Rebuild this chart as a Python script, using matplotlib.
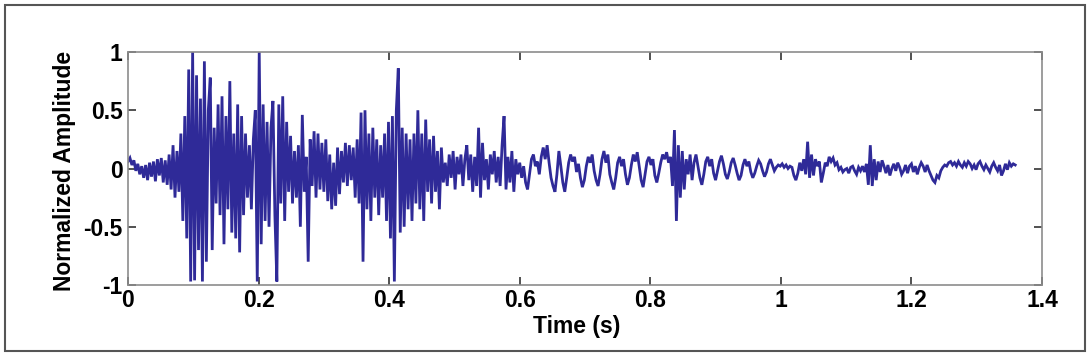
import numpy as np
import matplotlib
matplotlib.use('Agg')
import matplotlib.pyplot as plt
from matplotlib.patches import Rectangle
from matplotlib.ticker import FuncFormatter

# ---------------- data ----------------
sample_step = 0.003  # seconds between samples
amplitude = [
    0.06, 0.09, 0.03, 0.07, -0.02, 0.04, -0.05, 0.02, -0.08, 0.03, -0.10, 0.05, -0.07, 0.06, -0.11, 0.08, -0.06, 0.09, -0.12, 0.07,
    -0.14, 0.12, -0.18, 0.20, -0.25, 0.15, -0.20, 0.30, -0.45, 0.45, -0.60, 0.85, -0.97, 1.00, -0.96, 0.80, -0.70, 0.60, -0.97, 0.92,
    -0.80, 0.50, 0.78, -0.70, 0.35, -0.30, 0.55, -0.40, 0.62, -0.65, 0.45, -0.35, 0.75, -0.55, 0.30, -0.60, 0.55, -0.72, 0.45, -0.40,
    0.30, -0.25, 0.20, -0.35, 0.25, 0.50, -0.97, 1.00, -0.65, 0.55, -0.45, 0.40, -0.50, 0.35, 0.58, -0.40, -0.97, 0.55, -0.30, 0.62,
    -0.45, 0.40, -0.20, 0.28, -0.30, 0.15, -0.25, 0.20, -0.50, 0.46, -0.20, 0.10, -0.80, 0.25, -0.15, 0.32, -0.25, 0.30, -0.18, 0.22,
    -0.20, 0.25, -0.28, 0.12, -0.35, 0.05, -0.32, 0.18, -0.22, 0.15, -0.12, 0.22, -0.15, 0.20, -0.10, 0.18, -0.25, 0.25, -0.30, 0.48,
    -0.80, 0.50, -0.35, 0.30, -0.45, 0.35, -0.25, 0.25, -0.40, 0.20, -0.25, 0.30, -0.45, 0.40, -0.60, 0.45, -0.97, 0.50, 0.86, -0.55,
    0.35, -0.50, 0.30, -0.35, 0.25, -0.45, 0.30, -0.30, 0.50, -0.35, 0.30, -0.45, 0.42, -0.20, 0.25, -0.30, 0.28, -0.20, 0.15, -0.35,
    0.18, -0.12, 0.05, -0.15, 0.12, -0.08, 0.15, -0.18, 0.10, -0.05, 0.12, -0.15, 0.08, 0.20, -0.10, 0.12, -0.20, 0.10, -0.15, 0.35,
    -0.25, 0.22, -0.10, 0.08, -0.18, 0.12, -0.05, 0.15, -0.12, 0.10, -0.15, 0.20, 0.45, -0.18, 0.10, -0.12, 0.15, -0.20, 0.08, -0.05,
    0.05, -0.08, 0.02, -0.12, -0.18, -0.05, 0.08, 0.12, 0.02, 0.06, -0.05, 0.10, 0.18, 0.08, 0.20, 0.05, -0.08, -0.15, -0.20, -0.05,
    0.15, 0.02, -0.12, -0.20, -0.08, 0.05, 0.12, 0.06, 0.10, -0.03, 0.04, -0.08, -0.16, -0.10, 0.02, 0.10, 0.05, 0.12, -0.02, -0.10,
    -0.15, -0.05, 0.08, 0.15, 0.05, 0.12, -0.05, -0.12, -0.18, -0.08, 0.05, 0.10, 0.02, 0.08, -0.05, -0.14, -0.08, 0.03, 0.12, 0.06,
    0.14, 0.02, -0.10, -0.16, -0.05, 0.06, 0.10, 0.03, 0.08, -0.06, -0.12, -0.04, 0.05, 0.12, 0.08, 0.14, 0.05, 0.10, -0.15, 0.33,
    -0.45, 0.20, -0.25, 0.15, -0.18, 0.08, -0.05, 0.12, -0.10, 0.05, 0.12, 0.02, -0.08, -0.14, -0.05, 0.06, 0.10, 0.02, 0.08, -0.04,
    -0.10, -0.02, 0.06, 0.11, 0.04, -0.05, -0.09, -0.03, 0.05, 0.09, 0.03, -0.04, -0.10, -0.06, 0.03, 0.08, 0.02, 0.06, -0.03, -0.08,
    -0.04, 0.02, 0.07, 0.04, -0.02, -0.07, -0.03, 0.04, 0.08, 0.03, -0.02, 0.01, 0.03, 0.02, 0.04, 0.01, 0.03, 0.00, 0.02, 0.01,
    -0.06, -0.10, -0.04, 0.05, -0.02, 0.08, -0.05, 0.23, -0.08, 0.12, -0.06, 0.08, 0.02, 0.06, -0.12, -0.04, 0.05, 0.02, 0.10, 0.06,
    0.09, 0.03, 0.05, -0.01, 0.01, -0.03, -0.01, 0.00, -0.04, 0.01, 0.02, -0.02, -0.05, 0.01, -0.02, 0.02, -0.03, 0.04, -0.14, 0.20,
    -0.15, 0.08, -0.10, 0.06, -0.03, 0.07, 0.02, -0.04, 0.03, -0.06, 0.00, 0.04, -0.02, 0.05, 0.01, -0.05, -0.02, 0.03, -0.04, 0.02,
    0.04, -0.03, 0.02, -0.05, 0.01, 0.05, 0.02, -0.03, 0.03, -0.02, -0.06, -0.10, -0.12, -0.06, -0.08, -0.02, 0.01, 0.03, 0.02, 0.05,
    0.06, 0.03, 0.05, 0.02, 0.06, 0.03, 0.01, 0.05, 0.02, 0.06, 0.04, 0.00, 0.03, -0.01, 0.04, 0.06, 0.02, -0.01, 0.03, 0.00,
    -0.03, 0.02, 0.05, 0.01, -0.02, 0.03, -0.06, -0.02, 0.04, -0.01, 0.05, 0.02, 0.04, 0.03,
]
x_ticks = [0, 0.2, 0.4, 0.6, 0.8, 1.0, 1.2, 1.4]
y_ticks = [-1, -0.5, 0, 0.5, 1]
x_label = 'Time (s)'
y_label = 'Normalized Amplitude'

# ---------------- style ----------------
plt.rcParams['font.family'] = ['Liberation Sans', 'DejaVu Sans']
plt.rcParams['font.weight'] = 'bold'
plt.rcParams['axes.unicode_minus'] = False

W, H = 1090, 360
fig = plt.figure(figsize=(W / 100, H / 100), dpi=100)
fig.patch.set_facecolor('white')

ax_l, ax_r, ax_t, ax_b = 128, 1042, 52, 285
ax = fig.add_axes([ax_l / W, 1 - ax_b / H, (ax_r - ax_l) / W, (ax_b - ax_t) / H])

t = np.arange(len(amplitude)) * sample_step
ax.plot(t, amplitude, color='#2f2a98', lw=2.0, solid_joinstyle='miter')

ax.set_xlim(0, 1.4)
ax.set_ylim(-1, 1)
ax.set_xticks(x_ticks)
ax.set_yticks(y_ticks)
fmt = FuncFormatter(lambda v, p: '%g' % v)
ax.xaxis.set_major_formatter(fmt)
ax.yaxis.set_major_formatter(fmt)
ax.tick_params(direction='in', length=6, width=1.2, color='#333333',
               top=True, right=True, labelsize=16.5, labelcolor='black')
ax.tick_params(axis='x', pad=3)
ax.tick_params(axis='y', pad=4)
for lab in ax.get_xticklabels() + ax.get_yticklabels():
    lab.set_fontweight('bold')
for s in ax.spines.values():
    s.set_color('#8c8c8c')
    s.set_linewidth(1.2)

fig.text(577 / W, 1 - 326 / H, x_label, ha='center', va='center',
         fontsize=16.5, fontweight='bold')
fig.text(64 / W, 1 - 171 / H, y_label, ha='center', va='center',
         rotation=90, fontsize=16.5, fontweight='bold')

# outer frame
fig.add_artist(Rectangle((5 / W, 1 - 351 / H), (1085 - 5) / W, (351 - 5) / H,
                         transform=fig.transFigure, fill=False,
                         ec='#555555', lw=1.5))

fig.savefig('out.png', dpi=100, facecolor='white')
